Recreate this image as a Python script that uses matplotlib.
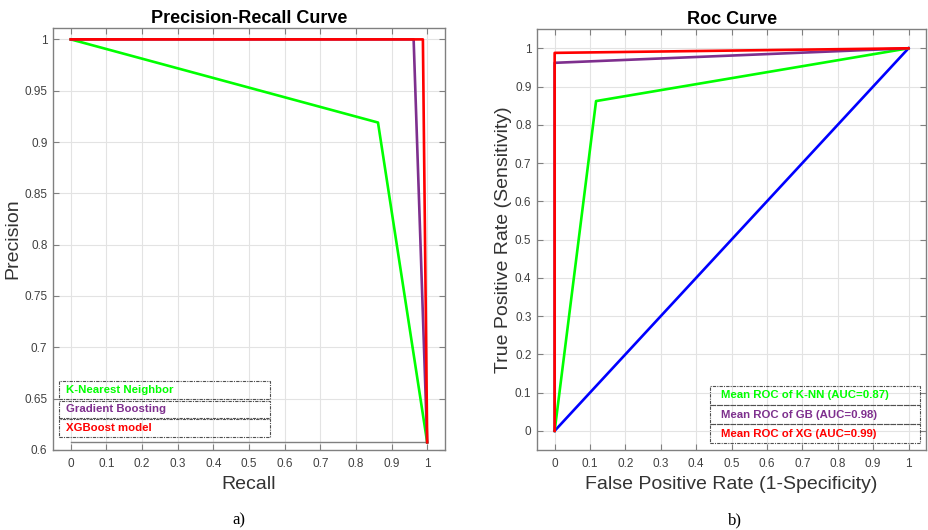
import matplotlib
matplotlib.use("Agg")
import matplotlib.pyplot as plt
from matplotlib.patches import Rectangle

plt.rcParams['font.family'] = ['Liberation Sans', 'DejaVu Sans']

# ---- data ----
pr_recall_knn = [0.0, 0.862, 1.0]
pr_prec_knn = [1.0, 0.919, 0.6075]
pr_recall_gb = [0.0, 0.962, 1.0]
pr_prec_gb = [1.0, 1.0, 0.6075]
pr_recall_xg = [0.0, 0.988, 1.0]
pr_prec_xg = [1.0, 1.0, 0.6075]
pr_base_x = [0.0, 1.0]
pr_base_y = [0.6075, 0.6075]

roc_fpr_knn = [0.0, 0.117, 1.0]
roc_tpr_knn = [0.0, 0.862, 1.0]
roc_fpr_gb = [0.0, 0.0, 1.0]
roc_tpr_gb = [0.0, 0.962, 1.0]
roc_fpr_xg = [0.0, 0.0, 1.0]
roc_tpr_xg = [0.0, 0.988, 1.0]
roc_chance = [0.0, 1.0]

pr_labels = ["K-Nearest Neighbor", "Gradient Boosting", "XGBoost model"]
roc_labels = ["Mean ROC of K-NN (AUC=0.87)", "Mean ROC of GB (AUC=0.98)", "Mean ROC of XG (AUC=0.99)"]
tick_x = [0, 0.1, 0.2, 0.3, 0.4, 0.5, 0.6, 0.7, 0.8, 0.9, 1]
pr_yticks = [0.6, 0.65, 0.7, 0.75, 0.8, 0.85, 0.9, 0.95, 1]
roc_yticks = [0, 0.1, 0.2, 0.3, 0.4, 0.5, 0.6, 0.7, 0.8, 0.9, 1]

GREEN = "#00FF00"
PURPLE = "#7E2F8E"
RED = "#FF0000"
BLUE = "#0000FF"
colors = [GREEN, PURPLE, RED]

fig = plt.figure(figsize=(9.29, 5.30), dpi=100)
ax1 = fig.add_axes([0.057, 0.151, 0.422, 0.796])
ax2 = fig.add_axes([0.578, 0.151, 0.419, 0.794])


def fmt(v):
    return f"{v:g}"


def style(ax, xticks, yticks):
    ax.set_xticks(xticks)
    ax.set_yticks(yticks)
    ax.set_xticklabels([fmt(v) for v in xticks])
    ax.set_yticklabels([fmt(v) for v in yticks])
    ax.tick_params(direction='in', top=True, right=True, length=4, width=0.8,
                   colors='#808080', labelcolor='#404040', labelsize=8.5)
    ax.tick_params(axis='y', pad=4)
    ax.tick_params(axis='x', pad=6)
    ax.grid(True, color='#e3e3e3', linewidth=0.8)
    ax.set_axisbelow(True)
    for s in ax.spines.values():
        s.set_color('#808080')
        s.set_linewidth(1.0)


def legend_boxes(ax, x0, x1, tops, h, labels, tx):
    for top, lab, c in zip(tops, labels, colors):
        ax.add_patch(Rectangle((x0, top - h), x1 - x0, h, transform=ax.transAxes,
                               fill=False, edgecolor='#505050', linestyle=(0, (3, 1, 1, 1)),
                               linewidth=0.8, zorder=5, clip_on=False))
        ax.text(tx, top - h / 2, lab, transform=ax.transAxes, color=c,
                fontweight='bold', fontsize=8.2, va='center', ha='left', zorder=6)


# ---- Precision-Recall ----
lw = 1.9
ax1.plot(pr_base_x, pr_base_y, color='#808080', linewidth=1.0)
ax1.plot(pr_recall_knn, pr_prec_knn, color=GREEN, linewidth=lw)
ax1.plot(pr_recall_gb, pr_prec_gb, color=PURPLE, linewidth=lw)
ax1.plot(pr_recall_xg, pr_prec_xg, color=RED, linewidth=lw)
ax1.set_xlim(-0.05, 1.05)
ax1.set_ylim(0.6, 1.011)
style(ax1, tick_x, pr_yticks)
ax1.set_title("Precision-Recall Curve", fontsize=13, fontweight='bold', pad=4)
ax1.set_xlabel("Recall", fontsize=14, color='#333333', labelpad=4)
ax1.set_ylabel("Precision", fontsize=14, color='#333333', labelpad=2)
legend_boxes(ax1, 0.016, 0.554, [0.164, 0.117, 0.073], 0.042, pr_labels, 0.033)

# ---- ROC ----
ax2.plot(roc_chance, roc_chance, color=BLUE, linewidth=lw)
ax2.plot(roc_fpr_knn, roc_tpr_knn, color=GREEN, linewidth=lw)
ax2.plot(roc_fpr_gb, roc_tpr_gb, color=PURPLE, linewidth=lw)
ax2.plot(roc_fpr_xg, roc_tpr_xg, color=RED, linewidth=lw)
ax2.set_xlim(-0.05, 1.05)
ax2.set_ylim(-0.05, 1.05)
style(ax2, tick_x, roc_yticks)
ax2.set_title("Roc Curve", fontsize=13, fontweight='bold', pad=4)
ax2.set_xlabel("False Positive Rate (1-Specificity)", fontsize=14, color='#333333', labelpad=4)
ax2.set_ylabel("True Positive Rate (Sensitivity)", fontsize=14, color='#333333', labelpad=2)
legend_boxes(ax2, 0.4435, 0.985, [0.152, 0.106, 0.061], 0.044, roc_labels, 0.4725)

fig.text(239 / 929, 1 - 520 / 530, "a)", family=['Liberation Serif', 'DejaVu Serif'],
         fontsize=12, ha='center', va='center')
fig.text(735 / 929, 1 - 520 / 530, "b)", family=['Liberation Serif', 'DejaVu Serif'],
         fontsize=12, ha='center', va='center')

fig.savefig("out.png", dpi=100)
